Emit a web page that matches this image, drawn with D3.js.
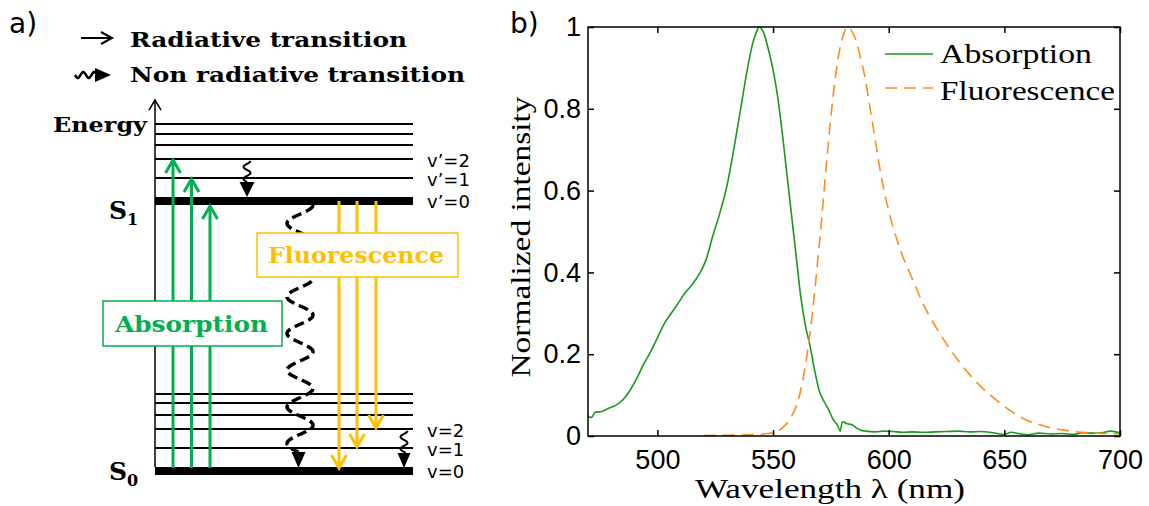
<!DOCTYPE html>
<html>
<head>
<meta charset="utf-8">
<script src="https://cdn.jsdelivr.net/npm/d3@7"></script>
<style>
  body { margin: 0; background: #fff; }
  svg { display: block; }
</style>
</head>
<body>
<script>
'use strict';

const width = 1149;
const height = 506;

// ---- panel b: spectra (normalized) ----
const absWavelength = [470, 471, 472, 473, 476, 479, 482, 485, 488, 491, 494, 497, 500, 503, 506, 509, 512, 515, 518, 521, 524, 527, 530, 533, 536, 539, 541, 543, 544, 546, 548, 550, 552, 554, 556, 558, 560, 562, 564, 566, 568, 570, 572, 574, 576, 578, 579, 580, 582, 584, 586, 588, 590, 594, 598, 602, 606, 610, 615, 620, 625, 630, 635, 640, 645, 650, 653, 656, 660, 665, 670, 675, 680, 684, 688, 692, 696, 700];
const absIntensity = [0.050, 0.045, 0.048, 0.058, 0.060, 0.068, 0.075, 0.088, 0.110, 0.140, 0.175, 0.205, 0.240, 0.275, 0.300, 0.325, 0.350, 0.370, 0.395, 0.430, 0.490, 0.545, 0.610, 0.700, 0.800, 0.900, 0.955, 0.990, 1.000, 0.985, 0.945, 0.895, 0.830, 0.740, 0.640, 0.540, 0.440, 0.340, 0.270, 0.220, 0.160, 0.110, 0.085, 0.065, 0.040, 0.025, 0.012, 0.035, 0.030, 0.028, 0.020, 0.014, 0.012, 0.010, 0.012, 0.011, 0.009, 0.010, 0.009, 0.010, 0.011, 0.012, 0.010, 0.011, 0.008, 0.004, 0.009, 0.006, 0.003, 0.007, 0.005, 0.006, 0.004, 0.008, 0.007, 0.008, 0.012, 0.008];

const fluoWavelength = [520, 530, 540, 548, 552, 555, 558, 561, 563, 565, 567, 569, 571, 573, 575, 577, 579, 581, 582.5, 584, 586, 588, 590, 592, 594, 596, 598, 600, 603, 606, 609, 612, 616, 620, 625, 630, 635, 640, 645, 650, 655, 660, 665, 670, 675, 680, 690, 700];
const fluoIntensity = [0.001, 0.002, 0.003, 0.006, 0.012, 0.025, 0.048, 0.090, 0.140, 0.210, 0.300, 0.410, 0.530, 0.660, 0.780, 0.880, 0.950, 0.990, 1.000, 0.990, 0.965, 0.920, 0.870, 0.800, 0.730, 0.660, 0.600, 0.550, 0.490, 0.440, 0.400, 0.360, 0.310, 0.270, 0.225, 0.185, 0.150, 0.120, 0.095, 0.072, 0.053, 0.038, 0.028, 0.020, 0.015, 0.011, 0.007, 0.005];

const xTicks = [500, 550, 600, 650, 700];
const yTicks = [0, 0.2, 0.4, 0.6, 0.8, 1];
const yTickLabels = ['0', '0.2', '0.4', '0.6', '0.8', '1'];
const seriesNames = ['Absorption', 'Fluorescence'];

// ---- panel a: energy levels (arbitrary units) ----
const s0Levels = [0, 8.5, 15.6, 20.7, 25.2, 28.5];
const s1Levels = [100, 108.5, 115.6, 120.7, 124.8, 128.5];
const absorptionTargets = [2, 1, 0];   // S0 v=0 -> S1 v'
const fluorescenceTargets = [0, 1, 2]; // S1 v'=0 -> S0 v
const s1LevelLabels = ['v’=0', 'v’=1', 'v’=2'];
const s0LevelLabels = ['v=0', 'v=1', 'v=2'];
const legendItems = ['Radiative transition', 'Non radiative transition'];

const green = '#00b050';
const yellow = '#ffc000';
const boldSerif = 'DejaVu Serif';
const serif = 'Liberation Serif';

const svg = d3.select('body')
  .append('svg')
  .attr('width', width)
  .attr('height', height);

// =========================== panel a ===========================
const a = svg.append('g');

const eScale = d3.scaleLinear().domain([0, 100]).range([471, 201]);
const axisX = 155;
const levelEnd = 413;

function wavePath(x, y0, y1, amp, period) {
  const pts = d3.range(y0, y1 + 0.01, 0.5)
    .map((yy) => [x + amp * Math.cos(2 * Math.PI * (yy - y0) / period), yy]);
  return d3.line()(pts);
}

function downHead(g, x, yTop, yTip, w) {
  g.append('path')
    .attr('d', `M${x - w / 2},${yTop}L${x + w / 2},${yTop}L${x},${yTip}Z`)
    .attr('fill', '#000');
}

// levels
const drawLevels = (levels) => {
  a.selectAll(null)
    .data(levels)
    .enter()
    .append('line')
    .attr('x1', axisX)
    .attr('x2', levelEnd)
    .attr('y1', (d) => eScale(d))
    .attr('y2', (d) => eScale(d))
    .attr('stroke', '#000')
    .attr('stroke-width', (d, i) => i === 0 ? 8 : 2);
};
drawLevels(s0Levels);
drawLevels(s1Levels);

// energy axis
a.append('line')
  .attr('x1', axisX).attr('x2', axisX)
  .attr('y1', eScale(0) - 4).attr('y2', eScale(137.4))
  .attr('stroke', '#000').attr('stroke-width', 1.5);
a.append('path')
  .attr('d', `M${axisX - 6},${eScale(137.4) + 10}L${axisX},${eScale(137.4)}L${axisX + 6},${eScale(137.4) + 10}`)
  .attr('fill', 'none').attr('stroke', '#000').attr('stroke-width', 1.5);

// absorption arrows
const absX = [173, 191.5, 210];
absorptionTargets.forEach((t, i) => {
  const yTip = eScale(s1Levels[t]) + (t === 0 ? 5 : 1);
  a.append('line')
    .attr('x1', absX[i]).attr('x2', absX[i])
    .attr('y1', eScale(0) - 3).attr('y2', yTip + 1)
    .attr('stroke', green).attr('stroke-width', 3);
  a.append('path')
    .attr('d', `M${absX[i] - 7.5},${yTip + 13}L${absX[i]},${yTip}L${absX[i] + 7.5},${yTip + 13}`)
    .attr('fill', 'none').attr('stroke', green).attr('stroke-width', 3);
});

// fluorescence arrows
const fluoX = [339, 357, 376];
fluorescenceTargets.forEach((t, i) => {
  const yTip = eScale(s0Levels[t]) - (t === 0 ? 3 : 1);
  a.append('line')
    .attr('x1', fluoX[i]).attr('x2', fluoX[i])
    .attr('y1', eScale(100)).attr('y2', yTip - 1)
    .attr('stroke', yellow).attr('stroke-width', 3);
  a.append('path')
    .attr('d', `M${fluoX[i] - 7.5},${yTip - 13}L${fluoX[i]},${yTip}L${fluoX[i] + 7.5},${yTip - 13}`)
    .attr('fill', 'none').attr('stroke', yellow).attr('stroke-width', 3);
});

// vibrational relaxation, S1
a.append('path')
  .attr('d', wavePath(247, eScale(s1Levels[2]) + 2, eScale(s1Levels[0]) - 19, 3.5, 12))
  .attr('fill', 'none').attr('stroke', '#000').attr('stroke-width', 2);
downHead(a, 247, eScale(s1Levels[0]) - 19, eScale(s1Levels[0]) - 4, 15);

// vibrational relaxation, S0
a.append('path')
  .attr('d', wavePath(404, eScale(s0Levels[2]) + 2, eScale(s0Levels[0]) - 18, 3.5, 12))
  .attr('fill', 'none').attr('stroke', '#000').attr('stroke-width', 2);
downHead(a, 404, eScale(s0Levels[0]) - 18, eScale(s0Levels[0]) - 3, 13);

// internal conversion S1 -> S0 (dashed wave)
const icEnd = eScale(s0Levels[0]) - 19;
a.append('path')
  .attr('d', wavePath(300, eScale(100) + 4, icEnd, 13, 36.7))
  .attr('fill', 'none').attr('stroke', '#000').attr('stroke-width', 3.5)
  .attr('stroke-dasharray', '10,5');
downHead(a, 298.5, icEnd, eScale(0) - 3, 14);

// labels boxes (drawn over the arrows)
const box = (x0, y0, w, h, color, label, tx, ty, tw) => {
  a.append('rect')
    .attr('x', x0).attr('y', y0).attr('width', w).attr('height', h)
    .attr('fill', '#fff').attr('stroke', color).attr('stroke-width', 1.5);
  a.append('text')
    .attr('x', tx).attr('y', ty)
    .attr('font-family', boldSerif).attr('font-weight', 'bold')
    .attr('font-size', 23)
    .attr('textLength', tw).attr('lengthAdjust', 'spacingAndGlyphs')
    .attr('fill', color)
    .text(label);
};
box(103, 301, 179, 45, green, 'Absorption', 115, 332, 153);
box(257, 233, 201, 44, yellow, 'Fluorescence', 268, 263, 176);

// level labels
const levelLabel = (labels, levels) => {
  a.selectAll(null)
    .data(labels)
    .enter()
    .append('text')
    .attr('x', 427)
    .attr('y', (d, i) => eScale(levels[i]) + (i === 0 ? 7 : 8))
    .attr('font-family', 'DejaVu Sans')
    .attr('font-size', 18)
    .text((d) => d);
};
levelLabel(s1LevelLabels, s1Levels);
levelLabel(s0LevelLabels, s0Levels);

// state labels
const stateLabel = (sub, yBase) => {
  const t = a.append('text')
    .attr('x', 109).attr('y', yBase)
    .attr('font-family', boldSerif).attr('font-weight', 'bold')
    .attr('font-size', 25);
  t.append('tspan').text('S');
  t.append('tspan').attr('font-size', 16).attr('dy', 6).text(sub);
};
stateLabel('1', 219);
stateLabel('0', 480);

a.append('text')
  .attr('x', 53).attr('y', 132)
  .attr('font-family', boldSerif).attr('font-weight', 'bold')
  .attr('font-size', 20)
  .attr('textLength', 94).attr('lengthAdjust', 'spacingAndGlyphs')
  .text('Energy');

// legend of panel a
a.append('line')
  .attr('x1', 81).attr('x2', 111).attr('y1', 38).attr('y2', 38)
  .attr('stroke', '#000').attr('stroke-width', 2);
a.append('path')
  .attr('d', 'M101,32L112,38L101,44')
  .attr('fill', 'none').attr('stroke', '#000').attr('stroke-width', 2);

const legendWave = d3.range(75, 96, 0.5).map((xx) => [xx, 75 + 3 * Math.sin(2 * Math.PI * (xx - 75) / 11)]);
a.append('path')
  .attr('d', d3.line()(legendWave))
  .attr('fill', 'none').attr('stroke', '#000').attr('stroke-width', 2.5);
a.append('path')
  .attr('d', 'M95,68L111,75L95,82Z')
  .attr('fill', '#000');

a.selectAll('text.leg')
  .data(legendItems)
  .enter()
  .append('text')
  .attr('class', 'leg')
  .attr('x', 130)
  .attr('y', (d, i) => 47 + i * 35)
  .attr('font-family', boldSerif).attr('font-weight', 'bold')
  .attr('font-size', 20)
  .attr('textLength', (d, i) => i === 0 ? 277 : 335)
  .attr('lengthAdjust', 'spacingAndGlyphs')
  .text((d) => d);

a.append('text')
  .attr('x', 9).attr('y', 33)
  .attr('font-family', 'DejaVu Sans')
  .attr('font-size', 28)
  .text('a)');

// =========================== panel b ===========================
const b = svg.append('g');

const x = d3.scaleLinear().domain([470, 700]).range([588, 1120]);
const y = d3.scaleLinear().domain([0, 1]).range([436, 27]);

b.append('clipPath')
  .attr('id', 'plotClip')
  .append('rect')
  .attr('x', 588).attr('y', 20).attr('width', 532).attr('height', 417);

const line = d3.line()
  .x((d) => x(d[0]))
  .y((d) => y(d[1]))
  .curve(d3.curveMonotoneX);

b.append('path')
  .datum(absWavelength.map((w, i) => [w, absIntensity[i]]))
  .attr('clip-path', 'url(#plotClip)')
  .attr('d', line)
  .attr('fill', 'none')
  .attr('stroke', '#1a9a1a')
  .attr('stroke-width', 1.6);

b.append('path')
  .datum(fluoWavelength.map((w, i) => [w, fluoIntensity[i]]))
  .attr('clip-path', 'url(#plotClip)')
  .attr('d', line)
  .attr('fill', 'none')
  .attr('stroke', '#ff8c1f')
  .attr('stroke-width', 1.6)
  .attr('stroke-dasharray', '12,7');

const styleAxis = (g) => {
  g.select('.domain').remove();
  g.selectAll('.tick line').attr('stroke-width', 1.5);
  g.attr('font-family', 'Liberation Sans').attr('font-size', 27);
};

b.append('g')
  .attr('transform', `translate(0,${y(0)})`)
  .call(d3.axisBottom(x).tickValues(xTicks).tickSize(-6).tickPadding(14))
  .call(styleAxis);

b.append('g')
  .attr('transform', `translate(0,${y(1)})`)
  .call(d3.axisTop(x).tickValues(xTicks).tickSize(-6).tickFormat(''))
  .call(styleAxis);

b.append('g')
  .attr('transform', `translate(${x(470)},0)`)
  .call(d3.axisLeft(y).tickValues(yTicks).tickFormat((d, i) => yTickLabels[i]).tickSize(-6).tickPadding(7))
  .call(styleAxis);

b.append('g')
  .attr('transform', `translate(${x(700)},0)`)
  .call(d3.axisRight(y).tickValues(yTicks).tickSize(-6).tickFormat(''))
  .call(styleAxis);

b.append('rect')
  .attr('x', x(470)).attr('y', y(1))
  .attr('width', x(700) - x(470)).attr('height', y(0) - y(1))
  .attr('fill', 'none').attr('stroke', '#000').attr('stroke-width', 1.5);

// legend
const legendColors = ['#1a9a1a', '#ff8c1f'];
seriesNames.forEach((name, i) => {
  b.append('line')
    .attr('x1', 885).attr('x2', 933)
    .attr('y1', 54 + i * 34).attr('y2', 54 + i * 34)
    .attr('stroke', legendColors[i]).attr('stroke-width', 1.6)
    .attr('stroke-dasharray', i === 1 ? '12,7' : null);
  b.append('text')
    .attr('x', 940).attr('y', 63 + i * 37)
    .attr('font-family', serif).attr('font-size', 28)
    .attr('textLength', i === 0 ? 152 : 175).attr('lengthAdjust', 'spacingAndGlyphs')
    .text(name);
});

// axis titles
b.append('text')
  .attr('x', 830).attr('y', 498)
  .attr('text-anchor', 'middle')
  .attr('font-family', serif).attr('font-size', 27)
  .attr('textLength', 270).attr('lengthAdjust', 'spacingAndGlyphs')
  .text('Wavelength λ (nm)');

b.append('text')
  .attr('transform', 'translate(530,237) rotate(-90)')
  .attr('text-anchor', 'middle')
  .attr('font-family', serif).attr('font-size', 28)
  .attr('textLength', 281).attr('lengthAdjust', 'spacingAndGlyphs')
  .text('Normalized intensity');

b.append('text')
  .attr('x', 510).attr('y', 33)
  .attr('font-family', 'DejaVu Sans')
  .attr('font-size', 28)
  .text('b)');
</script>
</body>
</html>
